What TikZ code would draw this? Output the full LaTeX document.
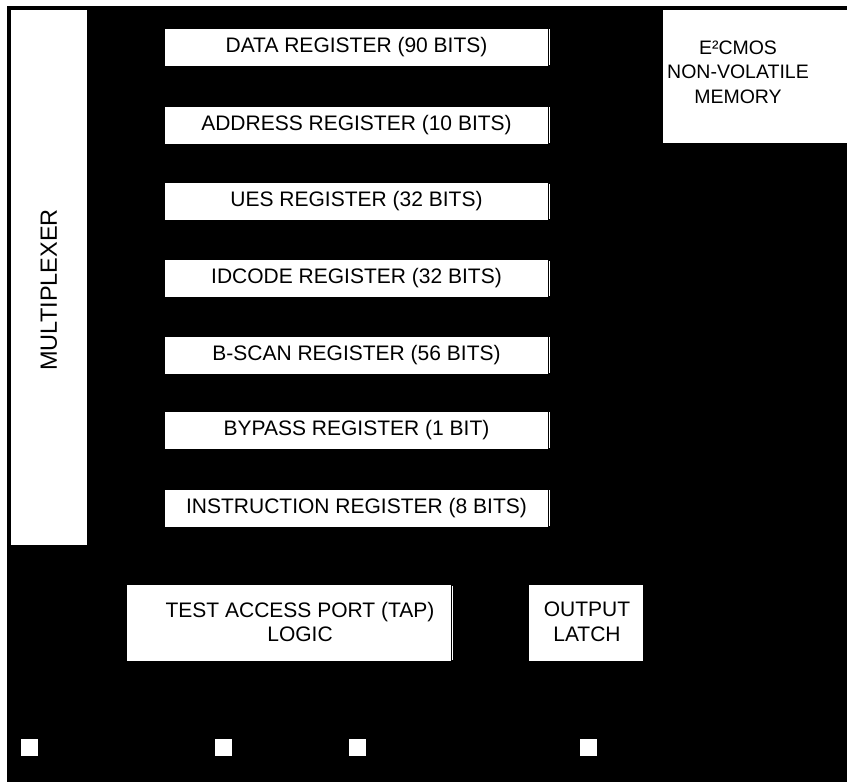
\documentclass[tikz,border=0pt]{standalone}
\usepackage{fontspec}
\setmainfont{Liberation Sans}
\begin{document}
\begin{tikzpicture}[x=1pt,y=-1pt,
  txt/.style={inner sep=0pt, align=center, font=\fontsize{21}{24.5}\selectfont},
  wbox/.style={txt, fill=white, draw=none},
  reg/.style={wbox, minimum width=383pt, minimum height=37pt},
  tick/.style={draw=white, line width=0.8pt},
  pad/.style={fill=white, draw=none, inner sep=0pt, minimum width=17pt, minimum height=17pt}]
\useasboundingbox (0,0) rectangle (847,782);
\fill[white] (0,0) rectangle (847,782);
\fill[black] (7,6) rectangle (847,782);
% multiplexer
\node[wbox, minimum width=76pt, minimum height=535pt] (mux) at (49,277.5) {};
\node[txt, rotate=90, font=\fontsize{23.5}{26}\selectfont] (muxt) at (49,290) {MULTIPLEXER};
% memory
\node[wbox, minimum width=184pt, minimum height=133pt] (mem) at (755,76.5) {};
\node[txt, font=\fontsize{19.5}{24.5}\selectfont] (memt) at (738,72) {E²CMOS\\NON-VOLATILE\\MEMORY};
% registers
\node[reg] (data) at (356.5,47) {DATA REGISTER (90 BITS)};
\node[reg] (addr) at (356.5,125) {ADDRESS REGISTER (10 BITS)};
\node[reg] (ues) at (356.5,201.5) {UES REGISTER (32 BITS)};
\node[reg] (idc) at (356.5,278.5) {IDCODE REGISTER (32 BITS)};
\node[reg] (bsc) at (356.5,355) {B-SCAN REGISTER (56 BITS)};
\node[reg] (byp) at (356.5,430) {BYPASS REGISTER (1 BIT)};
\node[reg] (ins) at (356.5,508) {INSTRUCTION REGISTER (8 BITS)};
\foreach \r in {data,addr,ues,idc,bsc,byp,ins}{
  \draw[tick] ([xshift=1.5pt,yshift=-1pt]\r.north east) -- ([xshift=1.5pt,yshift=1pt]\r.south east);
}
% TAP and output latch
\node[wbox, minimum width=324pt, minimum height=76pt] (tap) at (289,622.7) {};
\node[txt] (tapt) at (300,622) {TEST ACCESS PORT (TAP)\\LOGIC};
\draw[tick] ([xshift=1.5pt,yshift=-1pt]tap.north east) -- ([xshift=1.5pt,yshift=1pt]tap.south east);
\node[wbox, minimum width=114pt, minimum height=76pt] (latch) at (586,622.7) {};
\node[txt] (latcht) at (587,622) {OUTPUT\\LATCH};
% pins
\node[pad] (p1) at (29.5,747.2) {};
\node[pad] (p2) at (223.5,747.2) {};
\node[pad] (p3) at (357.5,747.2) {};
\node[pad] (p4) at (588.5,747.2) {};
\end{tikzpicture}
\end{document}
